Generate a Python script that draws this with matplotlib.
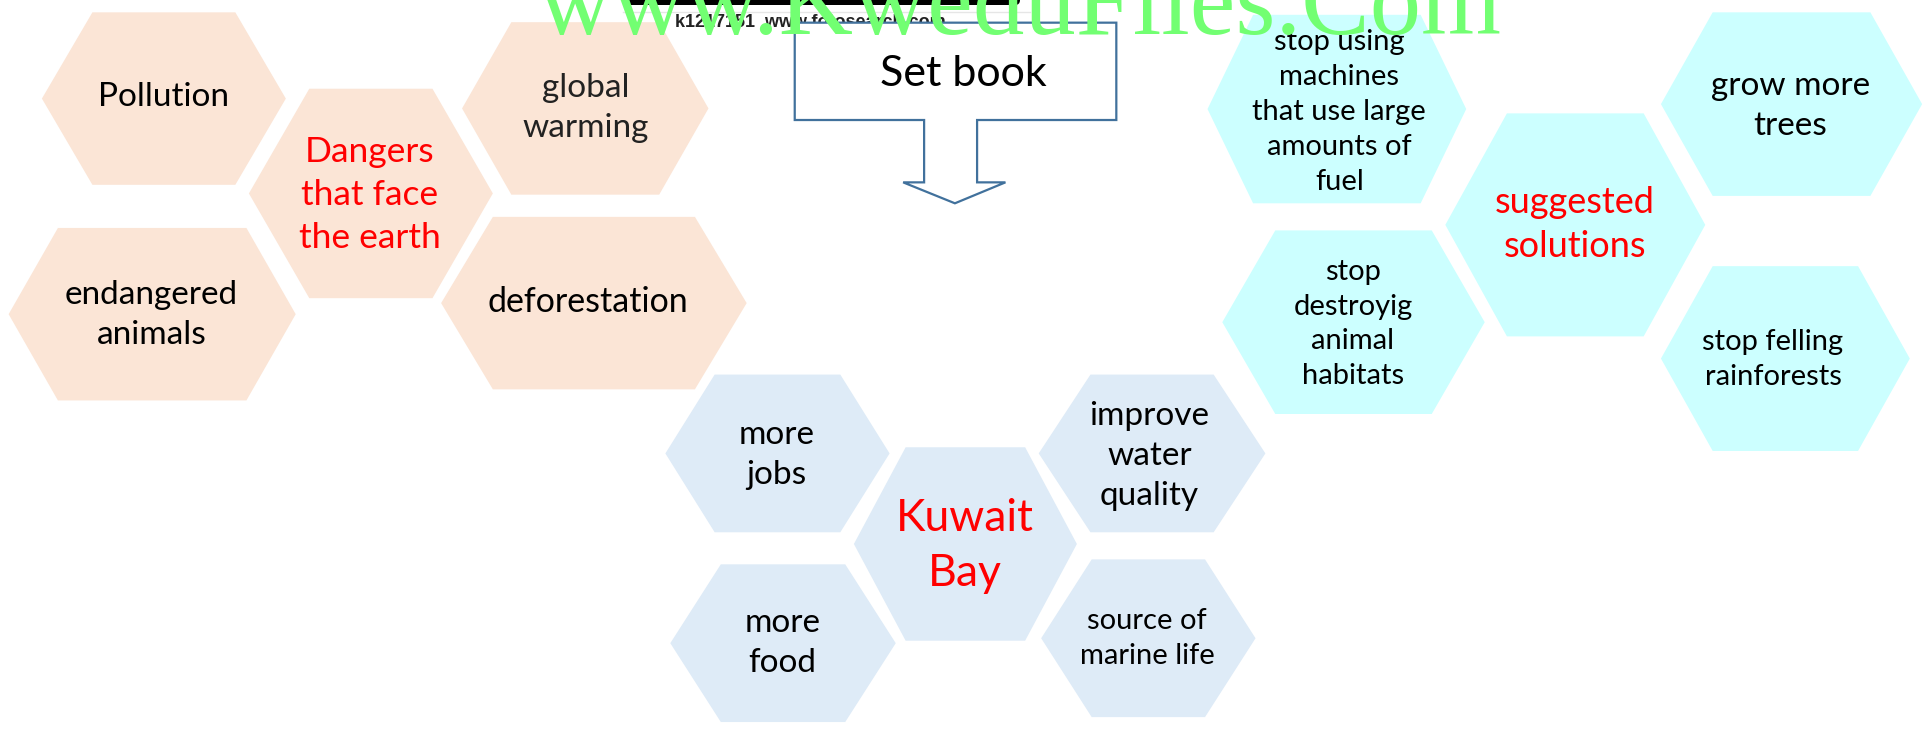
import numpy as np
import matplotlib.pyplot as plt
from matplotlib.patches import Polygon, FancyBboxPatch

# layout numbers were measured on a 1568 px wide copy of the slide
S = 1932 / 1568

# ---- text of the three clusters ----
danger_labels = ['Pollution', 'Dangers\nthat face\nthe earth', 'global\nwarming',
                 'endangered\nanimals', 'deforestation']
bay_labels = ['more\njobs', 'Kuwait\nBay', 'improve\nwater\nquality',
              'more\nfood', 'source of\nmarine life']
solution_labels = ['stop using\nmachines\nthat use large\namounts of\nfuel',
                   'suggested\nsolutions', 'grow more\ntrees',
                   'stop\ndestroyig\nanimal\nhabitats', 'stop felling\nrainforests']
title_text = 'Set book'
watermark = 'www.KweduFiles.Com'
stock_id = 'k1217151  www.fotosearch.com'

# ---- hexagon boxes: left, right, top, bottom, inset ----
danger_hex = [(34, 232, 10, 150, 41), (202, 400, 72, 242, 49), (375, 575, 18, 158, 40),
              (7, 240, 185, 325, 40), (358, 606, 176, 316, 42)]
bay_hex = [(540, 722, 304, 432, 40), (693, 874, 363, 520, 42), (843, 1027, 304, 432, 42),
           (544, 727, 458, 586, 41), (845, 1019, 454, 582, 41)]
sol_hex = [(980, 1190, 12, 165, 37), (1173, 1384, 92, 273, 50), (1348, 1560, 10, 159, 42),
           (992, 1205, 187, 336, 43), (1348, 1550, 216, 366, 42)]

# text centres and font sizes
danger_txt = [(133, 79), (300, 158), (475, 88), (123, 256), (477, 245)]
bay_txt = [(630, 369), (783, 443), (933, 370), (635, 522), (931, 518)]
sol_txt = [(1087, 91), (1278, 182), (1453, 86), (1098, 263), (1439, 292)]
danger_fs = [24, 25.5, 24, 24, 24.5]
bay_fs = [24, 32, 24, 24, 21]
sol_fs = [21, 26, 24, 21, 21]
centre = [1]  # index of the red heading in each cluster

plt.rcParams['font.family'] = ['Lato', 'DejaVu Sans']

fig = plt.figure(figsize=(19.32, 7.31), dpi=100)
ax = fig.add_axes([0, 0, 1, 1])
ax.set_xlim(0, 1932)
ax.set_ylim(731, 0)
ax.axis('off')


def hexagon(box, color):
    L, R, T, B, d = [v * S for v in box]
    m = (T + B) / 2
    pts = [(L, m), (L + d, T), (R - d, T), (R, m), (R - d, B), (L + d, B)]
    ax.add_patch(Polygon(pts, closed=True, fc=color, ec='none', zorder=2))


groups = [(danger_labels, danger_hex, danger_txt, danger_fs, '#FBE5D6'),
          (bay_labels, bay_hex, bay_txt, bay_fs, '#DEEBF7'),
          (solution_labels, sol_hex, sol_txt, sol_fs, '#CCFFFF')]

for labels, boxes, txts, sizes, col in groups:
    for i, lab in enumerate(labels):
        hexagon(boxes[i], col)
        x, y = txts[i]
        c = 'red' if i in centre else 'black'
        if lab == 'global\nwarming':
            c = '#222222'
        ax.text(x * S, y * S, lab, ha='center', va='center', fontsize=sizes[i],
                color=c, linespacing=1.42, zorder=3)

# clipped stock photo strip at the top
ax.add_patch(FancyBboxPatch((626, -10), 394, 15, boxstyle='round,pad=0,rounding_size=5',
                            fc='black', ec='none', zorder=1))
ax.plot([623, 1030], [12, 12], color='#e6e6e6', lw=1, zorder=1)
ax.text(675, 27, stock_id, fontsize=13, fontweight='bold', family='Liberation Sans',
        color='#222222', va='baseline', zorder=1)

# "Set book" callout with a down arrow
arrow = [(645, 18.4), (906, 18.4), (906, 97.4), (793, 97.4), (793, 148), (816, 148),
         (775, 165), (733, 148), (750, 148), (750, 97.4), (645, 97.4)]
ax.add_patch(Polygon([(x * S, y * S) for x, y in arrow], closed=True, fc='white',
                     ec='#41719C', lw=1.6, zorder=4))
ax.text(963, 74, title_text, ha='center', va='center', fontsize=31, zorder=5)

# site watermark
ax.text(538, 34, watermark, fontsize=74, family='Liberation Serif', color='#72FF72',
        va='baseline', ha='left', zorder=10)

fig.savefig('out.png', dpi=100)
